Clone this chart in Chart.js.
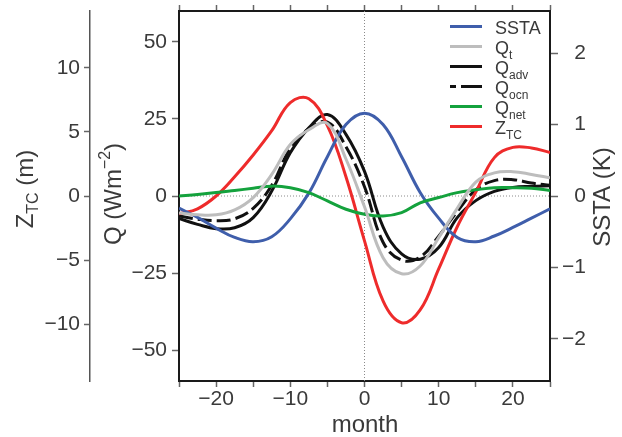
<!DOCTYPE html>
<html>
<head>
<meta charset="utf-8">
<script src="https://cdn.jsdelivr.net/npm/chart.js@4/dist/chart.umd.min.js"></script>
<style>
  body { margin: 0; background: #fff; }
  canvas { display: block; }
</style>
</head>
<body>
<canvas id="chart" width="622" height="437" style="width:622px;height:437px"></canvas>
<script>
// months (lag), shared by all series
const months = [-25, -22.5, -20, -17.5, -15, -12.5, -10, -7.5, -5, -2.5, 0, 2.5, 5, 7.5, 10, 12.5, 15, 17.5, 20, 22.5, 25];

// SSTA (K), right axis
const ssta = [-0.17, -0.3, -0.45, -0.58, -0.64, -0.57, -0.32, 0.04, 0.55, 1.0, 1.16, 1.0, 0.55, 0.05, -0.31, -0.58, -0.64, -0.56, -0.44, -0.31, -0.18];
// heat terms (W m-2), left axis
const qT = [-5.5, -6.1, -6.1, -4.5, -0.5, 7.0, 16.7, 21.5, 23.5, 12, -3.5, -20, -25.2, -22.7, -13.5, -4, 4.5, 7.5, 7.9, 7.0, 5.9];
const qAdv = [-7.3, -9.2, -10.6, -10.3, -7.0, 1.6, 14, 22.1, 26.4, 20, 8, -10, -18.8, -20.5, -16.7, -7.0, -1.5, 1.5, 2.8, 3.1, 3.3];
const qOcn = [-6.5, -7.5, -8.0, -7.4, -4.0, 3.5, 15.5, 21.8, 24, 16, 3, -15, -20.8, -19.8, -13, -5, 2, 5, 5.3, 4.2, 3.5];
const qNet = [0.0, 0.5, 1.1, 1.8, 2.5, 3.2, 2.7, 1.1, -1.6, -4.3, -5.9, -6.5, -5.4, -2.2, -0.5, 1.1, 2.0, 2.7, 2.7, 2.5, 1.8];
// thermocline depth (m), far left axis
const zTC = [-1.4, -1.0, 0.0, 1.5, 3.2, 5.1, 7.3, 7.6, 5.5, 1.5, -3.5, -8.2, -9.9, -8.9, -5.7, -2.4, 0.3, 3.0, 3.8, 3.75, 3.4];

// ticks
const monthLabels = [-20, -10, 0, 10, 20];
const qTicks = [-50, -25, 0, 25, 50];
const sTicks = [-2, -1, 0, 1, 2];
const zTicks = [-10, -5, 0, 5, 10];

const FONT = "'Liberation Sans', Arial, sans-serif";
const TXT = "#3a3a3a";

function fmt(v) {
    return String(v).replace("-", "\u2212");
}
function pts(arr) {
    return months.map((m, i) => ({ x: m, y: arr[i] }));
}

// legend entries: label parts [main, subscript]
const legendItems = [
    { parts: ["SSTA", ""], color: "#3f5eab" },
    { parts: ["Q", "t"], color: "#bdbdbd" },
    { parts: ["Q", "adv"], color: "#111111" },
    { parts: ["Q", "ocn"], color: "#111111", dash: [6, 5, 21, 5] },
    { parts: ["Q", "net"], color: "#14a23d" },
    { parts: ["Z", "TC"], color: "#ee2b2b" },
];

// text with sub/superscripts, list of [text, kind]
function drawRich(ctx, segs, x, y, size, align) {
    const small = Math.round(size * 0.66);
    let w = 0;
    segs.forEach((s) => {
        ctx.font = (s[1] ? small : size) + "px " + FONT;
        w += ctx.measureText(s[0]).width;
    });
    let cx = align === "center" ? x - w / 2 : x;
    segs.forEach((s) => {
        ctx.font = (s[1] ? small : size) + "px " + FONT;
        let dy = 0;
        if (s[1] === "sub") dy = size * 0.3;
        if (s[1] === "sup") dy = -size * 0.36;
        ctx.fillText(s[0], cx, y + dy);
        cx += ctx.measureText(s[0]).width;
    });
}

const extras = {
    id: "extras",
    beforeDatasetsDraw(chart) {
        const { ctx, chartArea } = chart;
        const x0 = chart.scales.x.getPixelForValue(0);
        const y0 = chart.scales.yQ.getPixelForValue(0);
        ctx.save();
        ctx.strokeStyle = "#8a8a8a";
        ctx.lineWidth = 1;
        ctx.setLineDash([1, 2]);
        ctx.beginPath();
        ctx.moveTo(x0, chartArea.top);
        ctx.lineTo(x0, chartArea.bottom);
        ctx.moveTo(chartArea.left, y0);
        ctx.lineTo(chartArea.right, y0);
        ctx.stroke();
        ctx.restore();
    },
    afterDraw(chart) {
        const { ctx } = chart;
        ctx.save();
        ctx.fillStyle = TXT;
        ctx.textBaseline = "middle";

        // axis titles
        const vtitle = (segs, x, y) => {
            ctx.save();
            ctx.translate(x, y);
            ctx.rotate(-Math.PI / 2);
            drawRich(ctx, segs, 0, 0, 24, "center");
            ctx.restore();
        };
        vtitle([["Z", ""], ["TC", "sub"], [" (m)", ""]], 26, 189);
        vtitle([["Q (Wm", ""], ["\u22122", "sup"], [")", ""]], 114, 194);
        vtitle([["SSTA (K)", ""]], 603, 197);
        drawRich(ctx, [["month", ""]], 365, 425, 24, "center");

        // legend
        ctx.textBaseline = "alphabetic";
        legendItems.forEach((it, i) => {
            const ly = 26.5 + i * 20;
            ctx.save();
            ctx.strokeStyle = it.color;
            ctx.lineWidth = 3;
            ctx.setLineDash(it.dash || []);
            ctx.beginPath();
            ctx.moveTo(450, ly);
            ctx.lineTo(482, ly);
            ctx.stroke();
            ctx.restore();
            drawRich(ctx, [[it.parts[0], ""], [it.parts[1], "sub"]], 495, ly + 7, 18, "left");
        });
        ctx.restore();
    },
};

const tickGrid = {
    drawOnChartArea: false,
    drawTicks: true,
    tickLength: 7,
    tickColor: "#666",
    tickWidth: 1.5,
};
const frame = { display: true, color: "#1a1a1a", width: 2 };
const tickFont = { family: FONT, size: 21 };

// fixed axis sizes, no label overhang padding
function fixV(w) {
    return (s) => { s.width = w; s.paddingTop = 0; s.paddingBottom = 0; };
}
function fixH(h) {
    return (s) => { s.height = h; s.paddingLeft = 0; s.paddingRight = 0; };
}

const ctx = document.getElementById("chart").getContext("2d");
new Chart(ctx, {
    type: "line",
    data: {
        datasets: [
            { label: "Qt", data: pts(qT), borderColor: "#bdbdbd", yAxisID: "yQ" },
            { label: "Qnet", data: pts(qNet), borderColor: "#14a23d", yAxisID: "yQ" },
            { label: "SSTA", data: pts(ssta), borderColor: "#3f5eab", yAxisID: "yS" },
            { label: "ZTC", data: pts(zTC), borderColor: "#ee2b2b", yAxisID: "yZ" },
            { label: "Qocn", data: pts(qOcn), borderColor: "#111111", borderDash: [14, 5], yAxisID: "yQ" },
            { label: "Qadv", data: pts(qAdv), borderColor: "#111111", yAxisID: "yQ" },
        ],
    },
    options: {
        responsive: false,
        animation: false,
        devicePixelRatio: 1,
        layout: { padding: { top: 0, left: 0, bottom: 0, right: 36 } },
        elements: {
            point: { radius: 0 },
            line: { borderWidth: 3, tension: 0.4, fill: false },
        },
        plugins: { legend: { display: false }, tooltip: { enabled: false } },
        scales: {
            x: {
                type: "linear",
                position: "bottom",
                min: -25,
                max: 25,
                ticks: {
                    stepSize: 5,
                    autoSkip: false,
                    maxRotation: 0,
                    padding: 0,
                    color: TXT,
                    font: tickFont,
                    callback: (v) => (monthLabels.includes(v) ? fmt(v) : ""),
                },
                grid: { ...tickGrid, tickLength: 6 },
                border: frame,
                afterFit: fixH(56),
            },
            x2: {
                type: "linear",
                position: "top",
                min: -25,
                max: 25,
                ticks: { stepSize: 5, display: false },
                grid: { ...tickGrid, tickLength: 6 },
                border: frame,
                afterFit: fixH(11),
            },
            yQ: {
                position: "left",
                weight: 0,
                min: -60,
                max: 60,
                afterBuildTicks: (s) => { s.ticks = qTicks.map((v) => ({ value: v })); },
                ticks: { padding: 5, color: TXT, font: tickFont, callback: (v) => fmt(v) },
                grid: tickGrid,
                border: frame,
                afterFit: fixV(89),
            },
            yZ: {
                position: "left",
                weight: 1,
                min: -14.45,
                max: 14.45,
                afterBuildTicks: (s) => { s.ticks = zTicks.map((v) => ({ value: v })); },
                ticks: { padding: 4, color: TXT, font: tickFont, callback: (v) => fmt(v) },
                grid: { ...tickGrid, tickLength: 6 },
                border: { display: true, color: "#555", width: 1.5 },
                afterFit: fixV(90),
            },
            yS: {
                position: "right",
                min: -2.59,
                max: 2.59,
                afterBuildTicks: (s) => { s.ticks = sTicks.map((v) => ({ value: v })); },
                ticks: { padding: 5, crossAlign: "far", color: TXT, font: tickFont, callback: (v) => fmt(v) },
                grid: { ...tickGrid, tickLength: 8 },
                border: frame,
                afterFit: fixV(36),
            },
        },
    },
    plugins: [extras],
});
</script>
</body>
</html>
